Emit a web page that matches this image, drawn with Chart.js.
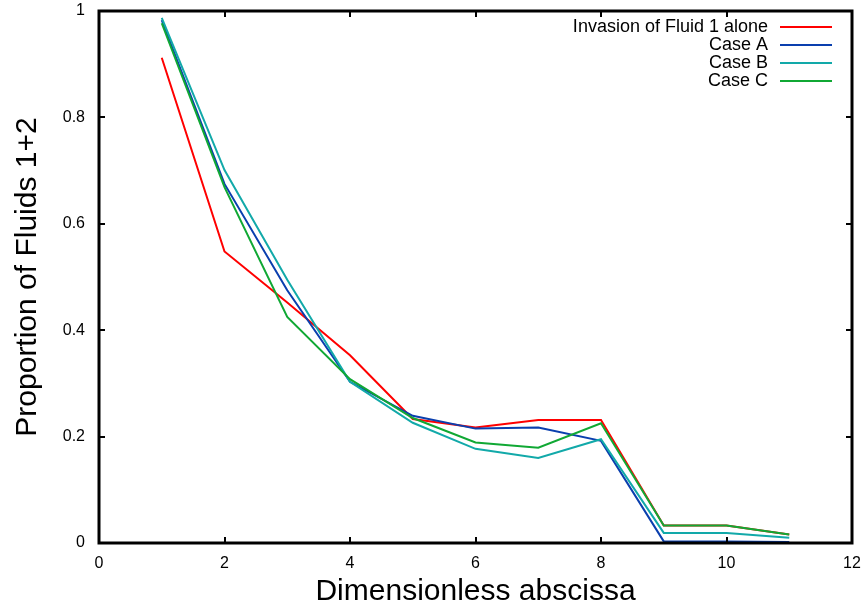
<!DOCTYPE html>
<html><head><meta charset="utf-8">
<script src="https://cdn.jsdelivr.net/npm/chart.js@4/dist/chart.umd.min.js"></script>
<style>html,body{margin:0;padding:0;background:#fff}#wrap{width:865px;height:610px}</style>
</head><body><div id="wrap"><canvas id="c" width="865" height="610"></canvas></div>
<script>
const xs = [1,2,3,4,5,6,7,8,9,10,11];
const fluid1 = [0.912,0.548,0.452,0.353,0.233,0.217,0.231,0.231,0.033,0.033,0.016];
const caseA  = [0.983,0.675,0.475,0.303,0.239,0.215,0.217,0.192,0.003,0.003,0.002];
const caseB  = [0.987,0.701,0.495,0.303,0.226,0.177,0.160,0.195,0.019,0.019,0.010];
const caseC  = [0.977,0.669,0.425,0.308,0.235,0.189,0.179,0.225,0.033,0.033,0.016];
const labels = ["Invasion of Fluid 1 alone","Case A","Case B","Case C"];
const colors = ["#ff0000","#0a3fae","#12a9a9","#10a834"];
const xTicks = [0,2,4,6,8,10,12];
const yTicks = [0,0.2,0.4,0.6,0.8,1];

const series=[fluid1,caseA,caseB,caseC];
const FONT='"Liberation Sans", Arial, sans-serif';

const framePlugin={
  id:'frame',
  afterDatasetsDraw(chart){
    const {ctx,chartArea:a,scales:{x,y}}=chart;
    ctx.save();
    ctx.strokeStyle='#000';
    ctx.lineWidth=2;
    const L=6;
    xTicks.forEach(v=>{const p=Math.round(x.getPixelForValue(v));
      ctx.beginPath();ctx.moveTo(p,a.bottom);ctx.lineTo(p,a.bottom-L);ctx.stroke();
      ctx.beginPath();ctx.moveTo(p,a.top);ctx.lineTo(p,a.top+L);ctx.stroke();});
    yTicks.forEach(v=>{const p=Math.round(y.getPixelForValue(v));
      ctx.beginPath();ctx.moveTo(a.left,p);ctx.lineTo(a.left+L,p);ctx.stroke();
      ctx.beginPath();ctx.moveTo(a.right,p);ctx.lineTo(a.right-L,p);ctx.stroke();});
    ctx.lineWidth=3;
    ctx.strokeRect(a.left,a.top,a.right-a.left,a.bottom-a.top);
    // legend
    ctx.font='18px '+FONT;
    ctx.textAlign='right';ctx.textBaseline='middle';
    labels.forEach((t,i)=>{
      const yy=a.top+16+i*18;
      ctx.fillStyle='#000';ctx.fillText(t,768,yy);
      ctx.strokeStyle=colors[i];ctx.lineWidth=2;
      ctx.beginPath();ctx.moveTo(780,yy);ctx.lineTo(832,yy);ctx.stroke();
    });
    ctx.restore();
  }
};

new Chart(document.getElementById('c'),{
  type:'line',
  data:{datasets:series.map((s,i)=>({
    label:labels[i],
    data:s.map((v,k)=>({x:xs[k],y:v})),
    borderColor:colors[i],backgroundColor:colors[i],
    borderWidth:2,pointRadius:0,tension:0,fill:false,order:4-i
  }))},
  options:{
    responsive:false,animation:false,
    layout:{padding:{top:11,right:13,left:0,bottom:0}},
    plugins:{legend:{display:false},tooltip:{enabled:false}},
    scales:{
      x:{type:'linear',min:0,max:12,
        afterBuildTicks(s){s.ticks=xTicks.map(v=>({value:v}));},
        afterFit(s){s.height=67;s.paddingLeft=0;s.paddingRight=0;},
        grid:{display:false,drawTicks:false},border:{display:false},
        ticks:{color:'#000',font:{family:FONT,size:16},padding:11,maxRotation:0},
        title:{display:true,text:'Dimensionless abscissa',color:'#000',font:{family:FONT,size:30},padding:{top:0,bottom:0}}
      },
      y:{type:'linear',min:0,max:1,
        afterBuildTicks(s){s.ticks=yTicks.map(v=>({value:v}));},
        afterFit(s){s.width=99;s.paddingTop=0;s.paddingBottom=0;},
        grid:{display:false,drawTicks:false},border:{display:false},
        ticks:{color:'#000',font:{family:FONT,size:16},padding:14,callback:v=>String(v)},
        title:{display:true,text:'Proportion of Fluids 1+2',color:'#000',font:{family:FONT,size:30},padding:{top:10,bottom:4}}
      }
    }
  },
  plugins:[framePlugin]
});
</script></body></html>
